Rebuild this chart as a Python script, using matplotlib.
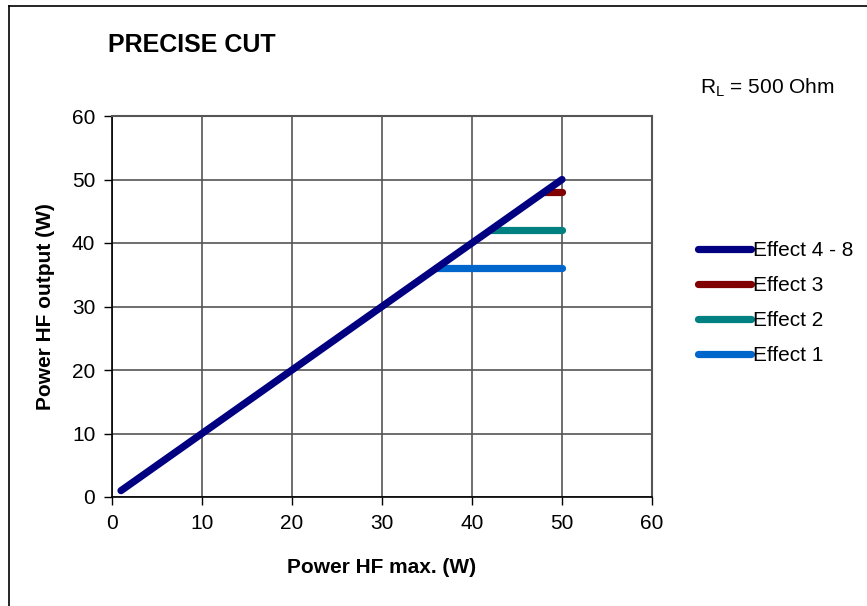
import numpy as np
import matplotlib
matplotlib.use("Agg")
import matplotlib.pyplot as plt
from matplotlib.lines import Line2D

plt.rcParams['font.family'] = ['Liberation Sans', 'DejaVu Sans']

# data
x_main = [1, 10, 20, 30, 40, 50]
y_main = [1, 10, 20, 30, 40, 50]
x_eff3 = [48, 50]
y_eff3 = [48, 48]
x_eff2 = [42, 50]
y_eff2 = [42, 42]
x_eff1 = [36, 50]
y_eff1 = [36, 36]

labels = ['Effect 4 - 8', 'Effect 3', 'Effect 2', 'Effect 1']
colors = ['#000080', '#800000', '#008080', '#0066CC']
ticks = [0, 10, 20, 30, 40, 50, 60]

fig = plt.figure(figsize=(8.67, 6.06), dpi=100)
ax = fig.add_axes([112/867, 1-497/606, 540/867, 381/606])

lw = 5.2
ax.plot(x_eff1, y_eff1, color=colors[3], lw=lw, solid_capstyle='round', zorder=3)
ax.plot(x_eff2, y_eff2, color=colors[2], lw=lw, solid_capstyle='round', zorder=3)
ax.plot(x_eff3, y_eff3, color=colors[1], lw=lw, solid_capstyle='round', zorder=3)
ax.plot(x_main, y_main, color=colors[0], lw=lw, solid_capstyle='round', zorder=4)

ax.set_xlim(0, 60)
ax.set_ylim(0, 60)
ax.set_xticks(ticks)
ax.set_yticks(ticks)
ax.tick_params(labelsize=15, direction='out', length=6, width=1, color='black', pad=6)
ax.grid(True, color='#555555', lw=1.2)
for s in ['top', 'right']:
    ax.spines[s].set_color('#555555')
    ax.spines[s].set_linewidth(1.5)
for s in ['left', 'bottom']:
    ax.spines[s].set_color('black')
    ax.spines[s].set_linewidth(1.2)

ax.set_xlabel('Power HF max. (W)', fontsize=15, fontweight='bold', labelpad=18)
ax.set_ylabel('Power HF output (W)', fontsize=15, fontweight='bold')
ax.yaxis.set_label_coords(-(112-55)/540, 0.5)

fig.text(108/867, 1-45/606, 'PRECISE CUT', fontsize=18, fontweight='bold', va='center', ha='left')
fig.text(700/867, 1-88/606, r'R$_\mathregular{L}$ = 500 Ohm', fontsize=15, va='center', ha='left')

handles = [Line2D([], [], color=c, lw=lw, solid_capstyle='round') for c in colors]
fig.legend(handles, labels, loc='upper left', bbox_to_anchor=(690/867, 1-233/606),
           frameon=False, fontsize=15, handlelength=2.55, handletextpad=0.08,
           labelspacing=0.76, borderaxespad=0)

# outer border (left and top only visible)
fig.add_artist(Line2D([9/867, 9/867], [0, 1-6/606], color='black', lw=1.2))
fig.add_artist(Line2D([9/867, 1], [1-6/606, 1-6/606], color='black', lw=1.2))

fig.savefig('out.png', dpi=100)
